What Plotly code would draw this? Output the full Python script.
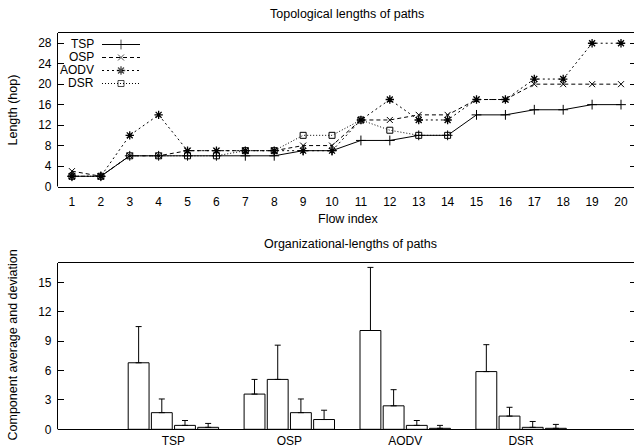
import plotly.graph_objects as go

# ---------------- data ----------------
flow_index = list(range(1, 21))
tsp_len = [2, 2, 6, 6, 6, 6, 6, 6, 7, 7, 9, 9, 10, 10, 14, 14, 15, 15, 16, 16]
osp_len = [3, 2, 6, 6, 7, 7, 7, 7, 8, 8, 13, 13, 14, 14, 17, 17, 20, 20, 20, 20]
aodv_len = [2, 2, 10, 14, 7, 7, 7, 7, 7, 7, 13, 17, 13, 13, 17, 17, 21, 21, 28, 28]
dsr_len = [2, 2, 6, 6, 6, 6, 7, 7, 10, 10, 13, 11, 10, 10]
top_yticks = [0, 4, 8, 12, 16, 20, 24, 28]

protocols = ["TSP", "OSP", "AODV", "DSR"]
# component averages (4 components per protocol) and upward deviations
tsp_avg = [6.8, 1.7, 0.4, 0.2]
tsp_dev = [3.7, 1.4, 0.5, 0.4]
osp_avg = [3.6, 5.1, 1.7, 1.0]
osp_dev = [1.5, 3.5, 1.4, 0.95]
aodv_avg = [10.1, 2.4, 0.4, 0.1]
aodv_dev = [6.45, 1.65, 0.5, 0.3]
dsr_avg = [5.9, 1.35, 0.2, 0.1]
dsr_dev = [2.75, 0.9, 0.6, 0.4]
bottom_yticks = [0, 3, 6, 9, 12, 15]

# ---------------- layout constants ----------------
W, H = 634, 447
FONT = "Liberation Sans, Arial, sans-serif"
LEFT = 57.5
TOP1, BOT1 = 33, 186.5
TOP2, BOT2 = 263, 429.3
TOP_RANGE = [0, 30]
BOT_RANGE = [0, 17]


def py(p):
    return 1 - p / H


fig = go.Figure()

line_styles = {
    "TSP": dict(dash="solid", symbol="cross-thin", size=7, lw=1),
    "OSP": dict(dash="4px,3px", symbol="x-thin", size=6, lw=1),
    "AODV": dict(dash="2px,3px", symbol="asterisk", size=7, lw=1.3),
    "DSR": dict(dash="1px,2px", symbol="square-open", size=6, lw=1),
}
series = [("TSP", tsp_len), ("OSP", osp_len), ("AODV", aodv_len), ("DSR", dsr_len)]
for name, vals in series:
    st = line_styles[name]
    fig.add_trace(go.Scatter(
        x=flow_index[:len(vals)], y=vals, mode="lines+markers", name=name,
        line=dict(color="black", width=1, dash=st["dash"]),
        marker=dict(symbol=st["symbol"], size=st["size"], color="black",
                    line=dict(color="black", width=st["lw"])),
        xaxis="x", yaxis="y", showlegend=False,
    ))

# legend samples (pixel-coordinate overlay axes)
leg_rows = [44.5, 57.5, 70.5, 83.5]
for (name, _), ly in zip(series, leg_rows):
    st = line_styles[name]
    fig.add_trace(go.Scatter(
        x=[102, 121, 140], y=[ly, ly, ly], mode="lines+markers",
        line=dict(color="black", width=1, dash=st["dash"]),
        marker=dict(symbol=st["symbol"], size=[0, st["size"], 0], color="black",
                    line=dict(color="black", width=st["lw"])),
        xaxis="x3", yaxis="y3", showlegend=False, hoverinfo="skip",
    ))
    fig.add_annotation(x=96 / W, y=py(ly), xref="paper", yref="paper", text=name,
                       showarrow=False, xanchor="right", yanchor="middle",
                       font=dict(family=FONT, size=12, color="black"))

# bars
avgs = [tsp_avg, osp_avg, aodv_avg, dsr_avg]
devs = [tsp_dev, osp_dev, aodv_dev, dsr_dev]
for k in range(4):
    fig.add_trace(go.Bar(
        x=list(range(len(protocols))), y=[a[k] for a in avgs],
        marker=dict(color="white", line=dict(color="black", width=1)),
        error_y=dict(type="data", array=[d[k] for d in devs],
                     arrayminus=[0] * len(protocols), symmetric=False,
                     color="black", thickness=1, width=3),
        xaxis="x2", yaxis="y2", showlegend=False,
    ))

# empty traces to activate right-side tick axes
fig.add_trace(go.Scatter(x=[None], y=[None], xaxis="x", yaxis="y4",
                         showlegend=False, hoverinfo="skip"))
fig.add_trace(go.Scatter(x=[None], y=[None], xaxis="x2", yaxis="y5",
                         showlegend=False, hoverinfo="skip"))

axis_font = dict(family=FONT, size=12, color="black")
xdom = [LEFT / W, 1]
right_ticks = dict(side="right", ticks="inside", ticklen=4, tickcolor="black",
                   showline=False, showticklabels=False, showgrid=False,
                   zeroline=False, automargin=False)
fig.update_layout(
    width=W, height=H, margin=dict(l=0, r=0, t=0, b=0, autoexpand=False),
    paper_bgcolor="white", plot_bgcolor="white", showlegend=False,
    barmode="group", bargap=0.2, bargroupgap=0.1,
    font=axis_font,
    xaxis=dict(domain=xdom, anchor="y", range=[0.5, 20.45], tickvals=flow_index,
               ticks="", showline=True, mirror=True, linecolor="black", linewidth=1,
               showgrid=False, zeroline=False, tickfont=axis_font,
               ticklabelstandoff=4, automargin=False),
    yaxis=dict(domain=[py(BOT1), py(TOP1)], anchor="x", range=TOP_RANGE,
               tickvals=top_yticks, ticks="inside", ticklen=6, tickcolor="black",
               showline=False, showgrid=False, zeroline=False,
               tickfont=axis_font, ticklabelstandoff=5, automargin=False),
    yaxis4=dict(overlaying="y", anchor="x", range=TOP_RANGE, tickvals=top_yticks,
                **right_ticks),
    xaxis3=dict(overlaying="x", range=[LEFT, W], visible=False, automargin=False),
    yaxis3=dict(overlaying="y", range=[BOT1, TOP1], visible=False, automargin=False),
    xaxis2=dict(domain=xdom, anchor="y2", range=[-1, 3.974],
                tickvals=list(range(len(protocols))), ticktext=protocols,
                ticks="", showline=True, mirror=True, linecolor="black", linewidth=1,
                showgrid=False, zeroline=False, tickfont=axis_font,
                ticklabelstandoff=0, automargin=False),
    yaxis2=dict(domain=[py(BOT2), py(TOP2)], anchor="x2", range=BOT_RANGE,
                tickvals=bottom_yticks, ticks="inside", ticklen=6, tickcolor="black",
                showline=False, showgrid=False, zeroline=False,
                tickfont=axis_font, ticklabelstandoff=5, automargin=False),
    yaxis5=dict(overlaying="y2", anchor="x2", range=BOT_RANGE, tickvals=bottom_yticks,
                **right_ticks),
)

# left frame lines
for xr, yr in [("x domain", "y domain"), ("x2 domain", "y2 domain")]:
    fig.add_shape(type="line", xref=xr, yref=yr, x0=0, x1=0, y0=0, y1=1,
                  line=dict(color="black", width=1))

title_font = dict(family=FONT, size=12.5, color="black")
fig.add_annotation(x=347 / W, y=py(14), xref="paper", yref="paper",
                   text="Topological lengths of paths", showarrow=False,
                   xanchor="center", yanchor="middle", font=title_font)
fig.add_annotation(x=347.5 / W, y=py(218.5), xref="paper", yref="paper",
                   text="Flow index", showarrow=False,
                   xanchor="center", yanchor="middle", font=title_font)
fig.add_annotation(x=350 / W, y=py(244), xref="paper", yref="paper",
                   text="Organizational-lengths of paths", showarrow=False,
                   xanchor="center", yanchor="middle", font=title_font)
fig.add_annotation(x=12.5 / W, y=py(110), xref="paper", yref="paper",
                   text="Length (hop)", showarrow=False, textangle=-90,
                   xanchor="center", yanchor="middle", font=title_font)
fig.add_annotation(x=12.5 / W, y=py(345), xref="paper", yref="paper",
                   text="Component average and deviation", showarrow=False,
                   textangle=-90, xanchor="center", yanchor="middle", font=title_font)

fig.write_html("out.html", config={"displayModeBar": False},
               post_script="document.body.style.margin='0px';"
                           "document.body.style.overflow='hidden';")
